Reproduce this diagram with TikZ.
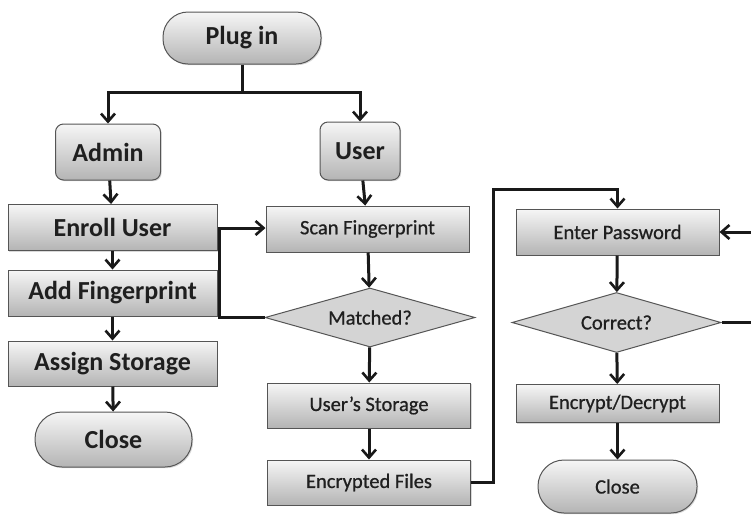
\documentclass[tikz,border=0pt]{standalone}
\usepackage{fontspec}
\setmainfont{Carlito}
\newfontfamily\medfont[FakeBold=0.7]{Carlito}
\usetikzlibrary{shapes.geometric,arrows.meta,shadows}
\definecolor{boxedge}{HTML}{555555}
\definecolor{boxtop}{HTML}{F6F6F6}
\definecolor{boxbot}{HTML}{B4B4B4}
\definecolor{diafill}{HTML}{D4D4D4}
\tikzset{
  base/.style={draw=boxedge,line width=1pt,top color=boxtop,bottom color=boxbot,
    text=black!88,inner sep=0pt,drop shadow={shadow xshift=1.2pt,shadow yshift=-1.2pt,opacity=0.3}},
  bigfont/.style={font=\fontsize{26}{28}\selectfont\bfseries},
  smallfont/.style={font=\medfont\fontsize{20.5}{22}\selectfont},
  bigbox/.style={base,rectangle,minimum width=209pt,minimum height=46pt,bigfont},
  smallbox/.style={base,rectangle,minimum width=203pt,minimum height=45pt,smallfont},
  roundbox/.style={base,rectangle,rounded corners=8pt,bigfont},
  stadium/.style={base,rectangle,rounded corners=25pt},
  decision/.style={draw=boxedge,line width=1pt,fill=diafill,diamond,aspect=3.5,inner sep=0pt,
    text=black!88,smallfont},
  conn/.style={line width=3pt,draw=black!90,-{Straight Barb[length=8pt,width=14pt,line width=2.6pt]}},
  plain/.style={line width=3pt,draw=black!90},
}
\begin{document}
\begin{tikzpicture}[x=1pt,y=-1pt]
\useasboundingbox (0,0) rectangle (751,515);
% left column
\node[stadium,minimum width=158pt,minimum height=52pt,bigfont] (plug) at (242,38) {Plug in};
\node[roundbox,minimum width=105pt,minimum height=56pt] (admin) at (108,152) {Admin};
\node[roundbox,minimum width=80pt,minimum height=58pt] (user) at (360,151) {User};
\node[bigbox] (enroll) at (112.5,227.5) {Enroll User};
\node[bigbox] (addfp) at (112.5,293) {Add Fingerprint};
\node[bigbox,minimum height=45pt] (assign) at (112.5,363.5) {Assign Storage};
\node[stadium,minimum width=157pt,minimum height=55pt,rounded corners=27pt,bigfont] (close1) at (113.5,439.5) {Close};
% middle column
\node[smallbox,minimum height=46pt] (scan) at (367.5,229) {Scan Fingerprint};
\node[decision,minimum width=210pt,minimum height=59pt] (match) at (370,317.5) {Matched?};
\node[smallbox] (storage) at (369,405.5) {User’s Storage};
\node[smallbox] (files) at (369,482.5) {Encrypted Files};
% right column
\node[smallbox,minimum height=46pt] (pass) at (617.5,232) {Enter Password};
\node[decision,minimum width=209pt,minimum height=60pt] (correct) at (616.5,322.5) {Correct?};
\node[smallbox,minimum height=38pt] (crypt) at (617.5,403.5) {Encrypt/Decrypt};
\node[stadium,minimum width=159pt,minimum height=53pt,rounded corners=26pt,smallfont] (close2) at (617.5,486.5) {Close};
% helper coordinates
\coordinate (split) at (242,92);
\coordinate (loopx) at (219.5,0);
\coordinate (upx) at (493,189);
\coordinate (farright) at (765,0);
% connectors
\draw[plain] (plug.south) -- (split);
\draw[conn] (split) -| (admin.north);
\draw[conn] (split) -| (user.north);
\draw[conn] (admin) -- (enroll);
\draw[conn] (enroll) -- (addfp);
\draw[conn] (addfp) -- (assign);
\draw[conn] (assign) -- (close1);
\draw[conn] (user) -- (scan);
\draw[conn] (enroll.east |- 0,228) -- (scan.west |- 0,228);
\draw[plain] (match.west) -- (loopx |- match.west) -- (loopx |- 0,228);
\draw[conn] (scan) -- (match);
\draw[conn] (match) -- (storage);
\draw[conn] (storage) -- (files);
\draw[conn] (files.east) -- (upx |- files.east) -- (upx) -| (pass.north);
\draw[conn] (pass) -- (correct);
\draw[conn] (correct) -- (crypt);
\draw[conn] (crypt) -- (close2);
\draw[conn] (correct.east) -- (farright |- correct.east) -- (farright |- pass.east) -- (pass.east);
\end{tikzpicture}
\end{document}
